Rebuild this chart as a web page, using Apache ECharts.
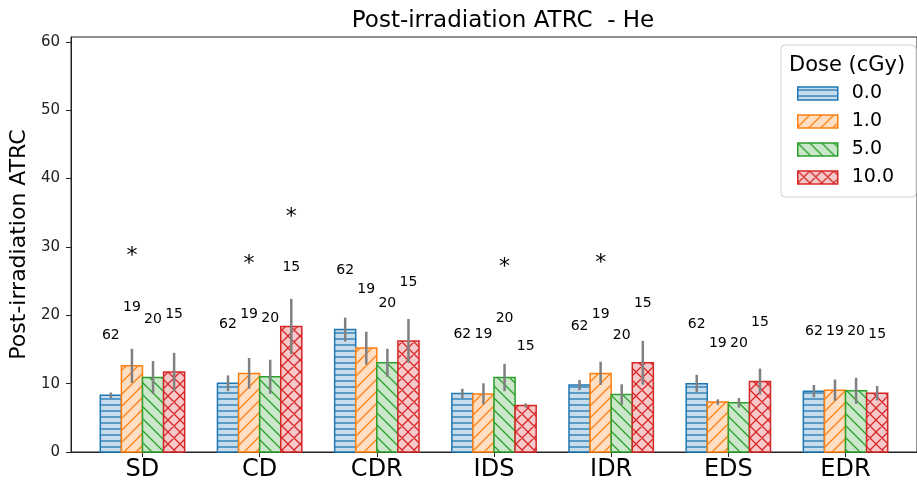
<!DOCTYPE html>
<html>
<head>
    <meta charset="UTF-8">
    <title>Post-irradiation ATRC - He</title>
    <script src="https://cdn.jsdelivr.net/npm/echarts@6/dist/echarts.min.js"></script>
    <style>
        html, body { margin: 0; padding: 0; background: #fff; }
        #chart { width: 917px; height: 489px; }
    </style>
</head>
<body>
    <div id="chart"></div>
    <script>
        // categories and doses
        var cats = ['SD', 'CD', 'CDR', 'IDS', 'IDR', 'EDS', 'EDR'];
        var doses = ['0.0', '1.0', '5.0', '10.0'];
        var counts = [62, 19, 20, 15];

        // mean values per dose
        var mean0 = [8.3, 10.05, 17.9, 8.55, 9.8, 10.0, 8.9];
        var mean1 = [12.6, 11.5, 15.2, 8.5, 11.5, 7.3, 9.05];
        var mean2 = [10.9, 11.0, 13.05, 10.9, 8.4, 7.2, 8.95];
        var mean3 = [11.7, 18.35, 16.25, 6.8, 13.05, 10.3, 8.6];

        // error (half length of the grey bar)
        var err0 = [0.4, 1.15, 1.75, 0.7, 0.75, 1.3, 0.9];
        var err1 = [2.5, 2.25, 2.4, 1.55, 1.7, 0.4, 1.55];
        var err2 = [2.4, 2.5, 2.05, 2.0, 1.5, 0.7, 1.9];
        var err3 = [2.8, 4.05, 3.2, 0.3, 3.2, 1.9, 1.05];

        // height of the n-labels
        var lab0 = [17.0, 18.7, 26.5, 17.2, 18.4, 18.6, 17.7];
        var lab1 = [21.1, 20.1, 23.8, 17.2, 20.2, 15.9, 17.7];
        var lab2 = [19.4, 19.6, 21.8, 19.5, 17.1, 15.9, 17.7];
        var lab3 = [20.2, 27.0, 24.8, 15.4, 21.7, 18.9, 17.2];

        // significance stars: [category, dose, height]
        var stars = [[0, 1, 29.1], [1, 1, 27.9], [1, 3, 34.8], [3, 2, 27.4], [4, 1, 28.0]];

        var yTicks = [0, 10, 20, 30, 40, 50, 60];
        var xTicks = [0, 1, 2, 3, 4, 5, 6];

        var means = [mean0, mean1, mean2, mean3];
        var errs = [err0, err1, err2, err3];
        var labs = [lab0, lab1, lab2, lab3];

        var edge = ['#1f77b4', '#ff7f0e', '#2ca02c', '#d62728'];
        var fills = ['#c7ddec', '#ffdfc3', '#cae7ca', '#f5c9c9'];
        var hatch = ['-', '/', '\\', 'x'];
        var barW = 0.18;
        var offsets = [-0.27, -0.09, 0.09, 0.27];
        var font = 'DejaVu Sans';

        function makePattern(i) {
            var P = 12;
            var cv = document.createElement('canvas');
            var ctx = cv.getContext('2d');
            if (hatch[i] === '-') {
                cv.width = 6; cv.height = 6;
                ctx.fillStyle = fills[i];
                ctx.fillRect(0, 0, 6, 6);
                ctx.strokeStyle = edge[i];
                ctx.lineWidth = 1.3;
                ctx.beginPath();
                ctx.moveTo(0, 3); ctx.lineTo(6, 3);
                ctx.stroke();
                return { image: cv, repeat: 'repeat' };
            }
            cv.width = P; cv.height = P;
            ctx.fillStyle = fills[i];
            ctx.fillRect(0, 0, P, P);
            ctx.strokeStyle = edge[i];
            ctx.lineWidth = 1.3;
            ctx.beginPath();
            if (hatch[i] === '/' || hatch[i] === 'x') {
                ctx.moveTo(-P, 2 * P); ctx.lineTo(2 * P, -P);
                ctx.moveTo(-P, P); ctx.lineTo(P, -P);
                ctx.moveTo(0, 2 * P); ctx.lineTo(2 * P, 0);
            }
            if (hatch[i] === '\\' || hatch[i] === 'x') {
                ctx.moveTo(-P, -P); ctx.lineTo(2 * P, 2 * P);
                ctx.moveTo(0, -P); ctx.lineTo(2 * P, P);
                ctx.moveTo(-P, 0); ctx.lineTo(P, 2 * P);
            }
            ctx.stroke();
            return { image: cv, repeat: 'repeat' };
        }

        var patterns = doses.map(function (d, i) { return makePattern(i); });

        function barRender(si) {
            return function (params, api) {
                var xc = api.value(0) + offsets[si];
                var m = api.value(1), e = api.value(2), ly = api.value(3);
                var p0 = api.coord([xc - barW / 2, m]);
                var p1 = api.coord([xc + barW / 2, 0]);
                var pt = api.coord([xc, m + e]);
                var pb = api.coord([xc, m - e]);
                var pl = api.coord([xc, ly]);
                return {
                    type: 'group',
                    children: [{
                        type: 'rect',
                        shape: { x: p0[0], y: p0[1], width: p1[0] - p0[0], height: p1[1] - p0[1] },
                        style: { fill: patterns[si], stroke: edge[si], lineWidth: 1.5 }
                    }, {
                        type: 'line',
                        shape: { x1: pt[0], y1: pt[1], x2: pb[0], y2: pb[1] },
                        style: { stroke: '#808080', lineWidth: 2.5 }
                    }, {
                        type: 'text',
                        x: pl[0], y: pl[1],
                        style: {
                            text: String(counts[si]), fontSize: 14, fontFamily: font,
                            fill: '#000', align: 'center', verticalAlign: 'middle'
                        }
                    }]
                };
            };
        }

        var series = doses.map(function (d, si) {
            return {
                name: d,
                type: 'custom',
                renderItem: barRender(si),
                itemStyle: { color: patterns[si], borderColor: edge[si] },
                data: cats.map(function (c, i) {
                    return [i, means[si][i], errs[si][i], labs[si][i]];
                }),
                z: 2
            };
        });

        series.push({
            type: 'custom',
            renderItem: function (params, api) {
                var p = api.coord([api.value(0) + offsets[api.value(1)], api.value(2)]);
                return {
                    type: 'text',
                    x: p[0], y: p[1] + 3,
                    style: {
                        text: '*', fontSize: 22, fontFamily: font,
                        fill: '#000', align: 'center', verticalAlign: 'middle'
                    }
                };
            },
            data: stars,
            z: 3
        });

        var chart = echarts.init(document.getElementById('chart'));

        var option = {
            animation: false,
            textStyle: { fontFamily: font },
            title: {
                text: 'Post-irradiation ATRC  - He',
                left: 498,
                textAlign: 'center',
                top: 5,
                textStyle: { fontSize: 23, fontWeight: 'normal', color: '#000', fontFamily: font }
            },
            grid: {
                left: 71, top: 37, width: 854, bottom: 37,
                show: true, borderColor: '#222', borderWidth: 1,
                backgroundColor: 'transparent'
            },
            xAxis: {
                type: 'value',
                min: -0.61, max: 6.61,
                splitLine: { show: false },
                axisLine: { show: true, onZero: false, lineStyle: { color: '#222' } },
                axisTick: { show: true, inside: false, customValues: xTicks, length: 5, lineStyle: { color: '#222' } },
                axisLabel: {
                    customValues: xTicks,
                    formatter: function (v) { return cats[Math.round(v)]; },
                    fontSize: 24, color: '#000', margin: 6, fontFamily: font
                }
            },
            yAxis: {
                type: 'value',
                min: 0, max: 60.7,
                name: 'Post-irradiation ATRC',
                nameLocation: 'middle',
                nameGap: 30,
                nameTextStyle: { fontSize: 22, color: '#000', fontFamily: font },
                splitLine: { show: false },
                axisLine: { show: true, onZero: false, lineStyle: { color: '#222' } },
                axisTick: { show: true, inside: false, customValues: yTicks, length: 5, lineStyle: { color: '#222' } },
                axisLabel: {
                    customValues: yTicks,
                    fontSize: 15, color: '#222', margin: 11, fontFamily: font
                }
            },
            legend: {
                orient: 'vertical',
                left: 781, top: 45,
                padding: [39, 22, 10, 16],
                backgroundColor: '#fff',
                borderColor: '#d0d0d0', borderWidth: 1, borderRadius: 4,
                itemWidth: 40, itemHeight: 13,
                itemGap: 9,
                icon: 'rect',
                textStyle: { fontSize: 19, color: '#000', fontFamily: font, padding: [0, 0, 0, 9] },
                data: doses.map(function (d, i) {
                    return {
                        name: d,
                        itemStyle: { color: patterns[i], borderColor: edge[i], borderWidth: 1.5 }
                    };
                })
            },
            graphic: [{
                type: 'text',
                left: 789, top: 55,
                z: 100,
                style: { text: 'Dose (cGy)', fontSize: 21, fontFamily: font, fill: '#000' }
            }],
            series: series
        };

        chart.setOption(option);
    </script>
</body>
</html>
